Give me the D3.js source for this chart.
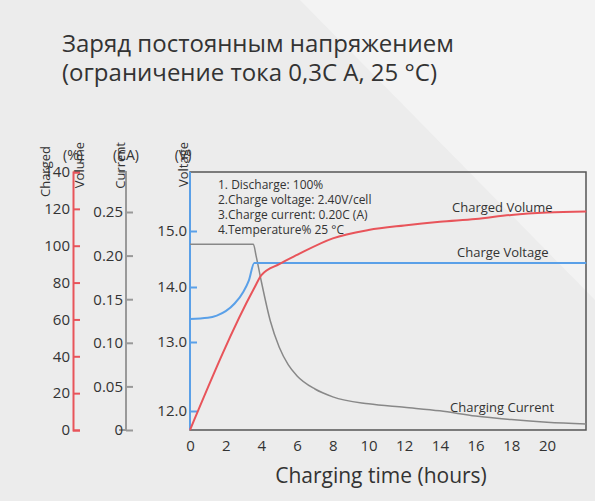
<!DOCTYPE html><html><head><meta charset="utf-8"><script src="https://cdn.jsdelivr.net/npm/d3@7"></script>
<style>body{margin:0;background:#ececec}text{font-family:"Open Sans",sans-serif;fill:#333}</style></head><body><svg width="595" height="501"></svg><script>
const hoursTicks=[0,2,4,6,8,10,12,14,16,18,20];
const volTicks=[0,20,40,60,80,100,120,140];
const curTicks=[0,0.05,0.10,0.15,0.20,0.25];
const curTickLabels=["0","0.05","0.10","0.15","0.20","0.25"];
const voltTicks=[12,13,14,15];
const voltageX=[0,1,1.5,2,2.5,3,3.3,3.6,22.2];
const voltageY=[13.42,13.44,13.48,13.56,13.7,13.92,14.12,14.43,14.43];
const currentX=[0,3.55,3.7,4,4.5,5,5.5,6,7,8,10,12,14,16,18,20,22.2];
const currentY=[0.213,0.213,0.2,0.17,0.125,0.095,0.075,0.062,0.047,0.038,0.03,0.026,0.022,0.016,0.012,0.009,0.007];
const volumeX=[0,3.6,4,5,6,8,10,12,14,16,18,20,22.2];
const volumeY=[0,77,84,90,95,104,108.5,111,113,114.5,116.7,118,118.6];
const svg=d3.select("svg");
svg.append("polygon").attr("points","300,0 595,0 595,300").attr("fill","#f3f3f3");
svg.append("text").attr("x",62).attr("y",52).attr("font-size",24).text("Заряд постоянным напряжением");
svg.append("text").attr("x",62).attr("y",81).attr("font-size",24).text("(ограничение тока 0,3C A, 25 °C)");
const x=d3.scaleLinear().domain([0,20]).range([190,547]);
const yVol=d3.scaleLinear().domain([0,140]).range([430,172]);
const yCur=d3.scaleLinear().domain([0,0.25]).range([430,212]);
const yV=d3.scaleLinear().domain([12,13,14,15]).range([411,342,287,231]);
svg.append("rect").attr("x",190).attr("y",172).attr("width",396).attr("height",258).attr("fill","none").attr("stroke","#555").attr("stroke-width",1.5);
function ax(gen,xp,color,labels){
  const a=svg.append("g").attr("transform",`translate(${xp},0)`).call(gen.tickSize(-7).tickPadding(3).tickFormat((d,i)=>labels[i]));
  a.selectAll("path,line").attr("stroke",color).attr("stroke-width",2);
  a.selectAll("text").attr("font-size",15).attr("fill","#333");
  return a;
}
ax(d3.axisLeft(yVol).tickValues(volTicks),73,"#e8545a",volTicks.map(String));
const ac=ax(d3.axisLeft(yCur).tickValues(curTicks),126,"#999",curTickLabels);
ac.select("path").attr("d","M-7,172H0V430H-7");
const avt=ax(d3.axisLeft(yV).tickValues(voltTicks),190,"#5aa0e8",voltTicks.map(d=>d.toFixed(1)));
avt.select("path").attr("d","M0,172V430");
const xa=svg.append("g").attr("transform","translate(0,430)").call(d3.axisBottom(x).tickValues(hoursTicks).tickSize(0).tickPadding(10));
xa.select("path").remove();
xa.selectAll("text").attr("font-size",15).attr("fill","#333");
svg.append("text").attr("x",381).attr("y",483).attr("text-anchor","middle").attr("font-size",21).text("Charging time (hours)");
[["Charged",50,146],["Volume",84,142],["Current",125,142],["Voltage",188,142]].forEach(([t,xx,yy])=>svg.append("text").attr("transform",`translate(${xx},${yy}) rotate(-90)`).attr("font-size",13).attr("text-anchor","end").text(t));
[["(%)",73],["(CA)",126],["(V)",183]].forEach(([t,xx])=>svg.append("text").attr("x",xx).attr("y",160).attr("text-anchor","middle").attr("font-size",14).text(t));
const line=(xs,ys,sc)=>d3.line().curve(d3.curveMonotoneX)(xs.map((d,i)=>[x(d),sc(ys[i])]));
svg.append("path").attr("d",line(currentX,currentY,yCur)).attr("fill","none").attr("stroke","#888").attr("stroke-width",1.5);
svg.append("path").attr("d",line(voltageX,voltageY,yV)).attr("fill","none").attr("stroke","#5aa0e8").attr("stroke-width",2);
svg.append("path").attr("d",line(volumeX,volumeY,yVol)).attr("fill","none").attr("stroke","#e8545a").attr("stroke-width",2);
["1. Discharge: 100%","2.Charge voltage: 2.40V/cell","3.Charge current: 0.20C (A)","4.Temperature% 25 °C"].forEach((t,i)=>svg.append("text").attr("x",218).attr("y",189+i*15).attr("font-size",12).text(t));
[["Charged Volume",452,212],["Charge Voltage",457,257],["Charging Current",450,412]].forEach(([t,xx,yy])=>svg.append("text").attr("x",xx).attr("y",yy).attr("font-size",13).text(t));
</script></body></html>
